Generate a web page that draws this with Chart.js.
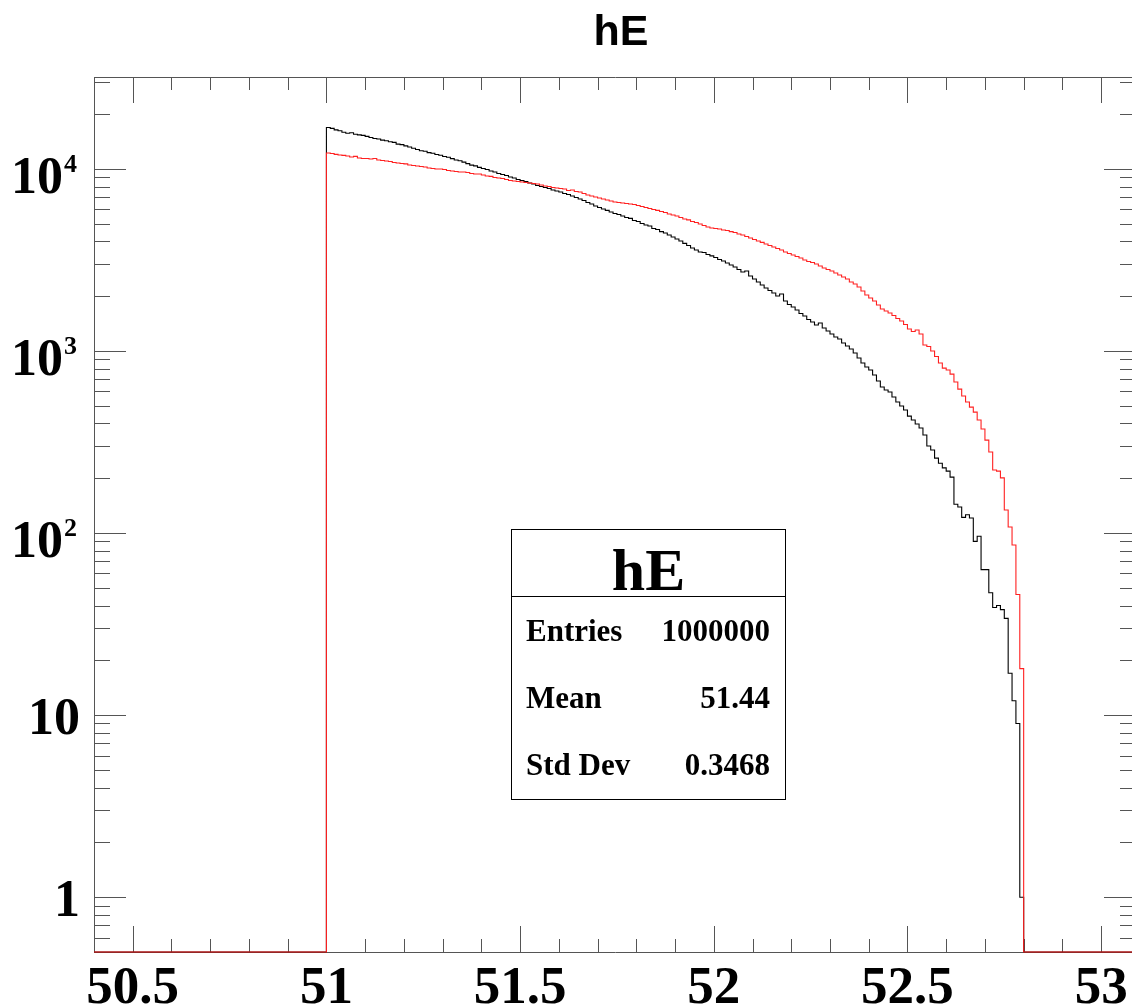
<!DOCTYPE html>
<html>
<head>
<meta charset="utf-8">
<script src="https://cdn.jsdelivr.net/npm/chart.js@4.4.1/dist/chart.umd.min.js"></script>
<style>
html, body { margin: 0; padding: 0; background: #fff; overflow: hidden; }
#wrap { position: relative; width: 1145px; height: 1006px; }
</style>
</head>
<body>
<div id="wrap"><canvas id="c"></canvas></div>
<script>
// hE — two overlaid 1D histograms (ROOT style), log y

const BIN_START = 51.0;
const BIN_WIDTH = 0.01;
const X_MIN = 50.4, X_MAX = 53.09;
const Y_MIN = 0.5,  Y_MAX = 32000;

// black histogram, 180 bins of 0.01 from 51.00
const blackCounts = [
    16900, 16700, 16400, 16200, 15900, 15700, 15800, 15500, 15400, 15300,
    15100, 14900, 14700, 14600, 14400, 14300, 14100, 14000, 13700, 13600,
    13400, 13200, 13000, 12800, 12600, 12500, 12300, 12200, 12000, 11900,
    11700, 11600, 11400, 11200, 11100, 10900, 10700, 10500, 10400, 10200,
    10060, 9940, 9750, 9630, 9450, 9330, 9210, 9040, 8920, 8760,
    8650, 8540, 8380, 8270, 8120, 8010, 7910, 7810, 7670, 7570,
    7470, 7330, 7240, 7100, 6970, 6840, 6710, 6540, 6420, 6260,
    6140, 6030, 5920, 5800, 5690, 5620, 5520, 5410, 5350, 5210,
    5150, 5020, 4920, 4860, 4710, 4650, 4530, 4450, 4340, 4230,
    4125, 4020, 3900, 3800, 3680, 3590, 3500, 3480, 3390, 3330,
    3265, 3183, 3123, 3045, 2970, 2894, 2804, 2717, 2752, 2583,
    2487, 2394, 2305, 2220, 2150, 2083, 2006, 2057, 1883, 1802,
    1745, 1680, 1607, 1557, 1490, 1443, 1390, 1425, 1338, 1288,
    1240, 1194, 1164, 1107, 1065, 1026, 975, 915, 859, 817,
    787, 738, 684, 634, 611, 595, 559, 525, 499, 474,
    439, 418, 397, 378, 346, 301, 286, 258, 242, 228,
    219, 203, 144, 139, 122, 126, 121, 90, 96, 63,
    63, 47, 39, 40, 38, 34, 17, 12, 9, 1
];

// red histogram, same binning
const redCounts = [
    12240, 12170, 12020, 11940, 11870, 11790, 11640, 11720, 11490, 11420,
    11420, 11350, 11420, 11210, 11140, 11070, 11000, 10860, 10790, 10720,
    10660, 10520, 10450, 10390, 10320, 10260, 10130, 10060, 10000, 9990,
    9940, 9810, 9750, 9690, 9630, 9620, 9570, 9450, 9390, 9380,
    9270, 9150, 9100, 8980, 8920, 8870, 8760, 8650, 8590, 8540,
    8480, 8430, 8380, 8320, 8270, 8170, 8060, 8010, 7910, 7860,
    7810, 7760, 7620, 7670, 7520, 7470, 7330, 7200, 7100, 7020,
    6930, 6840, 6760, 6670, 6590, 6540, 6500, 6460, 6420, 6380,
    6300, 6220, 6140, 6070, 5990, 5920, 5840, 5770, 5660, 5590,
    5520, 5410, 5310, 5250, 5150, 5080, 4990, 4890, 4800, 4740,
    4710, 4680, 4620, 4590, 4530, 4480, 4395, 4340, 4260, 4180,
    4100, 4020, 3950, 3870, 3800, 3730, 3660, 3590, 3500, 3435,
    3370, 3305, 3245, 3160, 3100, 3065, 3006, 2931, 2858, 2804,
    2752, 2683, 2616, 2551, 2487, 2394, 2334, 2247, 2137, 2031,
    1956, 1883, 1789, 1701, 1659, 1618, 1567, 1508, 1462, 1398,
    1321, 1280, 1304, 1240, 1079, 1058, 1000, 933, 859, 806,
    787, 747, 676, 618, 566, 525, 492, 462, 418, 373,
    324, 279, 222, 219, 201, 134, 108, 86, 46, 18
];

const xTickLabels = ['50.5', '51', '51.5', '52', '52.5', '53'];
const yDecades    = [1, 10, 100, 1000, 10000];
const statsTitle  = 'hE';
const statsNames  = ['Entries', 'Mean', 'Std Dev'];
const statsValues = ['1000000', '51.44', '0.3468'];
const chartTitle  = 'hE';

const FRAME = '#555';
const SERIF = '"Liberation Serif", "Times New Roman", serif';
const SANS  = '"Liberation Sans", Arial, sans-serif';

// histogram -> step points (low edge carries the bin content)
function toSteps(counts) {
    const pts = [{ x: X_MIN, y: 0 }];
    counts.forEach((c, i) => pts.push({ x: +(BIN_START + i * BIN_WIDTH).toFixed(2), y: c }));
    pts.push({ x: +(BIN_START + counts.length * BIN_WIDTH).toFixed(2), y: 0 });
    pts.push({ x: X_MAX, y: 0 });
    return pts;
}

const snap = v => Math.round(v) + 0.5;

const rootFrame = {
    id: 'rootFrame',
    beforeDatasetsDraw(chart) {
        const { ctx, chartArea: a, scales: { x, y } } = chart;
        ctx.save();
        ctx.strokeStyle = FRAME;
        ctx.lineWidth = 1;
        ctx.beginPath();
        ctx.rect(snap(a.left), snap(a.top), Math.round(a.right - a.left), Math.round(a.bottom - a.top));
        ctx.stroke();

        // x ticks, bottom and top, minor every 0.1
        ctx.beginPath();
        for (let i = Math.ceil(X_MIN * 10); i <= Math.floor(X_MAX * 10); i++) {
            const px = snap(x.getPixelForValue(i / 10));
            const len = i % 5 === 0 ? 26 : 13;
            ctx.moveTo(px, a.bottom); ctx.lineTo(px, a.bottom - len);
            ctx.moveTo(px, a.top);    ctx.lineTo(px, a.top + len);
        }
        // y ticks, log decades with 2..9 minors, left and right
        for (let d = 0.1; d <= 10000; d *= 10) {
            for (let m = 1; m <= 9; m++) {
                const v = m * d;
                if (v < Y_MIN - 1e-9 || v > Y_MAX) continue;
                const py = snap(y.getPixelForValue(v));
                const len = m === 1 ? 32 : 16;
                ctx.moveTo(a.left, py);  ctx.lineTo(a.left + len, py);
                ctx.moveTo(a.right, py); ctx.lineTo(a.right - len, py);
            }
        }
        ctx.stroke();
        ctx.restore();
    },
    afterDatasetsDraw(chart) {
        const { ctx, scales: { x, y } } = chart;
        ctx.save();
        ctx.fillStyle = '#000';

        // x labels
        ctx.font = 'bold 53px ' + SERIF;
        ctx.textAlign = 'center';
        ctx.textBaseline = 'alphabetic';
        xTickLabels.forEach(t => ctx.fillText(t, x.getPixelForValue(parseFloat(t)), 1003));

        // y labels
        yDecades.forEach(v => {
            const py = y.getPixelForValue(v);
            const exp = Math.round(Math.log10(v));
            if (exp >= 2) {
                ctx.font = 'bold 52px ' + SERIF;
                ctx.textAlign = 'right';
                ctx.fillText('10', 63, py + 24);
                ctx.font = 'bold 26px ' + SERIF;
                ctx.textAlign = 'left';
                ctx.fillText(String(exp), 64, py + 3);
            } else {
                ctx.font = 'bold 52px ' + SERIF;
                ctx.textAlign = 'right';
                ctx.fillText(String(v), 80, py + 19);
            }
        });

        // title
        ctx.font = 'bold 43px ' + SANS;
        ctx.textAlign = 'center';
        ctx.fillText(chartTitle, 621, 45);

        // stats box
        const bx = 511.5, by = 529.5, bw = 274, bh = 270;
        ctx.fillStyle = '#fff';
        ctx.fillRect(bx, by, bw, bh);
        ctx.strokeStyle = '#000';
        ctx.lineWidth = 1;
        ctx.strokeRect(bx, by, bw, bh);
        ctx.beginPath();
        ctx.moveTo(bx, 596.5); ctx.lineTo(bx + bw, 596.5);
        ctx.stroke();
        ctx.fillStyle = '#000';
        ctx.font = 'bold 60px ' + SERIF;
        ctx.textAlign = 'center';
        ctx.fillText(statsTitle, bx + bw / 2, 590);
        ctx.font = 'bold 31px ' + SERIF;
        statsNames.forEach((n, i) => {
            const base = 641 + i * 67;
            ctx.textAlign = 'left';
            ctx.fillText(n, 526, base);
            ctx.textAlign = 'right';
            ctx.fillText(statsValues[i], 770, base);
        });
        ctx.restore();
    }
};

new Chart(document.getElementById('c'), {
    type: 'line',
    data: {
        datasets: [
            {
                label: 'red', data: toSteps(redCounts), parsing: false,
                borderColor: '#ff2020', borderWidth: 1.1, pointRadius: 0,
                stepped: 'before', fill: false, clip: false, order: 1,
            },
            {
                label: 'black', data: toSteps(blackCounts), parsing: false,
                borderColor: '#000000', borderWidth: 1.1, pointRadius: 0,
                stepped: 'before', fill: false, clip: false, order: 2,
            },
        ],
    },
    options: {
        responsive: true,
        maintainAspectRatio: false,
        animation: false,
        events: [],
        layout: { padding: { left: 94, top: 77, right: 9, bottom: 54 } },
        scales: {
            x: { type: 'linear', min: X_MIN, max: X_MAX, display: false },
            y: { type: 'logarithmic', min: Y_MIN, max: Y_MAX, display: false },
        },
        plugins: {
            legend: { display: false },
            tooltip: { enabled: false },
            title: { display: false },
        },
    },
    plugins: [rootFrame],
});
</script>
</body>
</html>
